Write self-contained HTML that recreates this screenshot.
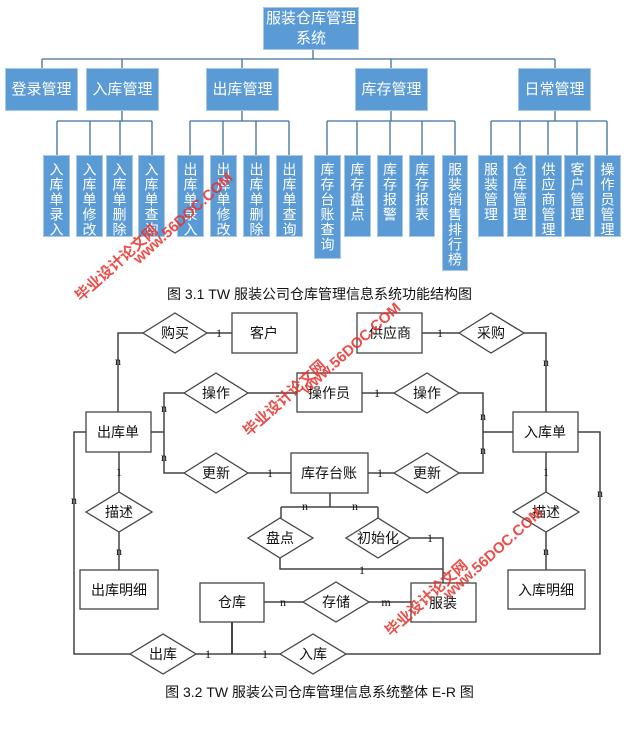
<!DOCTYPE html>
<html><head><meta charset="utf-8"><style>
body{margin:0;width:639px;height:742px;background:#fff;position:relative;overflow:hidden;font-family:"Liberation Sans","Noto Sans CJK SC",sans-serif}
.b{position:absolute;background:#5b9bd5;border:1px solid #a9c8e8;box-sizing:border-box;color:#fff;display:flex;align-items:center;justify-content:center;text-align:center;overflow:hidden}
.h{font-size:15px;line-height:20px}
.v{writing-mode:vertical-rl;text-orientation:upright;font-size:14px;line-height:26px;letter-spacing:1px;white-space:nowrap;align-items:center;justify-content:flex-start;padding-top:6px}
svg{position:absolute;left:0;top:0}
.cap{position:absolute;font-size:14px;color:#111;width:639px;text-align:center}
.wm{position:absolute;color:#e8302a;font-weight:bold;font-size:15px;transform:rotate(-42deg);transform-origin:left top;white-space:nowrap;opacity:.85;font-family:"Liberation Sans","Noto Sans CJK SC",sans-serif}
</style></head><body>
<svg width="639" height="742">
<g stroke="#41719c" stroke-width="1.3" fill="none">
<path d="M313 50V59M42 59H555M42 59V68M122 59V68M242 59V68M391 59V68M555 59V68"/>
<path d="M122 111V121M57 121H152M57 121V155M90 121V155M120 121V155M152 121V155"/>
<path d="M242 111V121M190 121H289M190 121V155M223 121V155M256 121V155M289 121V155"/>
<path d="M391 111V121M327 121H455M327 121V155M357 121V155M390 121V155M422 121V155M455 121V155"/>
<path d="M555 111V121M491 121H607M491 121V155M520 121V155M548 121V155M577 121V155M607 121V155"/>
</g>
<g stroke="#444" stroke-width="1.5" fill="none">
<path d="M143 333H118V412M207 333H232"/>
<path d="M422 333H459M524 333H546V412"/>
<path d="M184 393H164V473H184M151 432H164M248 393H297M362 393H394"/>
<path d="M459 393H483V473H459M483 432H513M248 473H291M368 473H394"/>
<path d="M330 493V507M281 507H378M281 507V518M378 507V518"/>
<path d="M280 558V569H443M410 538H443V583"/>
<path d="M119 452V492M119 532V570M546 452V492M546 532V570"/>
<path d="M86 432H74V654H130M578 432H600V654H346M196 654H280"/>
<path d="M232 622V654" stroke-width="2"/>
<path d="M264 602H303M369 602H411"/>
</g>
<g stroke="#444" stroke-width="1.3" fill="#fff">
<rect x="232" y="313" width="65" height="40"/><rect x="357" y="313" width="65" height="40"/>
<rect x="297" y="373" width="65" height="39"/><rect x="86" y="412" width="65" height="40"/>
<rect x="513" y="412" width="65" height="40"/><rect x="291" y="453" width="77" height="40"/>
<rect x="80" y="570" width="78" height="39"/><rect x="508" y="570" width="77" height="39"/>
<rect x="200" y="583" width="64" height="39"/><rect x="411" y="583" width="65" height="39"/>
<polygon points="143,333 175,313 207,333 175,353"/>
<polygon points="459,333 491,313 524,333 491,353"/>
<polygon points="184,393 216,373 248,393 216,413"/>
<polygon points="394,393 427,373 459,393 427,413"/>
<polygon points="184,473 216,453 248,473 216,493"/>
<polygon points="394,473 427,453 459,473 427,493"/>
<polygon points="86,512 119,492 152,512 119,532"/>
<polygon points="513,512 546,492 579,512 546,532"/>
<polygon points="248,538 280,518 313,538 280,558"/>
<polygon points="346,538 378,518 410,538 378,558"/>
<polygon points="303,602 336,582 369,602 336,622"/>
<polygon points="130,654 163,634 196,654 163,674"/>
<polygon points="280,654 313,634 346,654 313,674"/>
</g>
<g font-size="14" fill="#111" text-anchor="middle" dominant-baseline="central" font-family="Liberation Sans,Noto Sans CJK SC,sans-serif">
<text x="264" y="333">客户</text><text x="390" y="333">供应商</text><text x="175" y="333">购买</text><text x="491" y="333">采购</text>
<text x="329" y="393">操作员</text><text x="216" y="393">操作</text><text x="427" y="393">操作</text>
<text x="118" y="432">出库单</text><text x="545" y="432">入库单</text><text x="329" y="473">库存台账</text>
<text x="216" y="473">更新</text><text x="427" y="473">更新</text><text x="119" y="512">描述</text><text x="546" y="512">描述</text>
<text x="280" y="538">盘点</text><text x="378" y="538">初始化</text><text x="119" y="590">出库明细</text><text x="546" y="590">入库明细</text>
<text x="232" y="602">仓库</text><text x="443" y="603">服装</text><text x="336" y="602">存储</text><text x="163" y="654">出库</text><text x="313" y="654">入库</text>
</g>
<g font-size="12" fill="#111" text-anchor="middle" dominant-baseline="central" font-family="Liberation Serif,serif">
<text x="118" y="361">n</text><text x="219" y="333">1</text><text x="440" y="333">1</text><text x="546" y="362">n</text>
<text x="164" y="408">n</text><text x="164" y="457">n</text><text x="377" y="393">1</text><text x="483" y="416">n</text><text x="483" y="450">n</text>
<text x="270" y="473">1</text><text x="380" y="473">1</text><text x="305" y="506">n</text><text x="355" y="506">n</text>
<text x="362" y="570">1</text><text x="430" y="538">1</text><text x="119" y="472">1</text><text x="119" y="551">n</text>
<text x="546" y="472">1</text><text x="546" y="551">n</text><text x="74" y="500">n</text><text x="600" y="493">n</text>
<text x="208" y="654">1</text><text x="265" y="654">1</text><text x="283" y="602">n</text><text x="386" y="602">m</text>
</g>
</svg>
<div class="b h" style="left:263px;top:7px;width:96px;height:43px">服装仓库管理<br>系统</div>
<div class="b h" style="left:5px;top:68px;width:73px;height:43px">登录管理</div>
<div class="b h" style="left:86px;top:68px;width:73px;height:43px">入库管理</div>
<div class="b h" style="left:206px;top:68px;width:73px;height:43px">出库管理</div>
<div class="b h" style="left:355px;top:68px;width:73px;height:43px">库存管理</div>
<div class="b h" style="left:518px;top:68px;width:73px;height:43px">日常管理</div>
<div class="b v" style="left:43px;top:155px;width:27px;height:82px">入库单录入</div>
<div class="b v" style="left:76px;top:155px;width:27px;height:82px">入库单修改</div>
<div class="b v" style="left:106px;top:155px;width:27px;height:82px">入库单删除</div>
<div class="b v" style="left:138px;top:155px;width:27px;height:82px">入库单查询</div>
<div class="b v" style="left:177px;top:155px;width:27px;height:82px">出库单录入</div>
<div class="b v" style="left:210px;top:155px;width:27px;height:82px">出库单修改</div>
<div class="b v" style="left:243px;top:155px;width:27px;height:82px">出库单删除</div>
<div class="b v" style="left:276px;top:155px;width:27px;height:82px">出库单查询</div>
<div class="b v" style="left:314px;top:155px;width:27px;height:104px">库存台账查询</div>
<div class="b v" style="left:344px;top:155px;width:27px;height:82px">库存盘点</div>
<div class="b v" style="left:377px;top:155px;width:26px;height:82px">库存报警</div>
<div class="b v" style="left:409px;top:155px;width:26px;height:82px">库存报表</div>
<div class="b v" style="left:442px;top:155px;width:26px;height:116px">服装销售排行榜</div>
<div class="b v" style="left:478px;top:155px;width:26px;height:82px">服装管理</div>
<div class="b v" style="left:507px;top:155px;width:26px;height:82px">仓库管理</div>
<div class="b v" style="left:535px;top:155px;width:27px;height:82px">供应商管理</div>
<div class="b v" style="left:564px;top:155px;width:27px;height:82px">客户管理</div>
<div class="b v" style="left:594px;top:155px;width:27px;height:82px">操作员管理</div>
<div class="cap" style="top:284px">图 3.1 TW 服装公司仓库管理信息系统功能结构图</div>
<div class="cap" style="top:682px">图 3.2 TW 服装公司仓库管理信息系统整体 E-R 图</div>
<div class="wm" style="left:70px;top:290px">毕业设计论文网</div>
<div class="wm" style="left:130px;top:255px">www.56DOC.COM</div>
<div class="wm" style="left:238px;top:425px">毕业设计论文网</div>
<div class="wm" style="left:298px;top:385px">www.56DOC.COM</div>
<div class="wm" style="left:380px;top:625px">毕业设计论文网</div>
<div class="wm" style="left:440px;top:590px">www.56DOC.COM</div>
</body></html>
